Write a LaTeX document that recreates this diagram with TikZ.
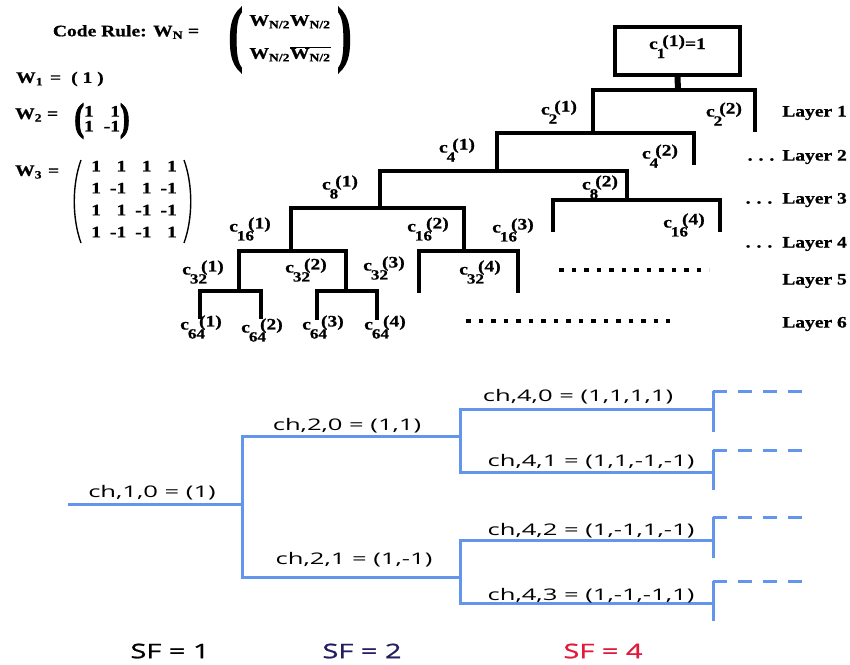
\documentclass[tikz,border=0pt]{standalone}
\usepackage{fontspec}
\usepackage{graphicx}
\setmainfont{Liberation Serif}
\newfontfamily\codefont[FakeStretch=1.22,FakeBold=0.8]{Liberation Serif}
\newfontfamily\parenfont[FakeBold=3]{Liberation Serif}
\newfontfamily\chfont[FakeStretch=1.6]{Open Sans}
\newfontfamily\sfcodefont[FakeStretch=1.45,FakeBold=1]{Open Sans}

\definecolor{treeblue}{RGB}{100,149,237}
\definecolor{sfnavy}{RGB}{35,30,95}
\definecolor{sfred}{RGB}{225,25,60}

% c_{sf}^{(k)} as printed in the code tree
\newsavebox\subbox
\newcommand{\ovsf}[2]{c\kern-1pt\sbox\subbox{\fontsize{14}{14}\selectfont #1}%
    \raisebox{-9pt}{\usebox\subbox}\kern-0.35\wd\subbox\raisebox{3pt}{(#2)}}
% bold stretched bracket
\newcommand{\tallparen}[4]{\raisebox{#1}{\scalebox{#2}[#3]{\parenfont\bfseries #4}}}

\begin{document}
\begin{tikzpicture}[x=1pt, y=-1pt,
    branch/.style={line width=3.8pt, line cap=rect},
    stem/.style={line width=6pt},
    dotrow/.style={line width=4.5pt, dash pattern=on 4.5pt off 8pt},
    code/.style={font={\codefont\bfseries\fontsize{16}{18}\selectfont}, inner sep=0pt},
    codebox/.style={code, draw, line width=4pt, minimum width=125pt, minimum height=48pt, text height=11pt, text depth=15pt},
    layer/.style={code, anchor=east},
    paren/.style={line width=1.4pt},
    tree/.style={treeblue, line width=3pt},
    cont/.style={tree, dash pattern=on 14pt off 11pt},
    chlabel/.style={font={\chfont\fontsize{16}{18}\selectfont}, inner sep=0pt},
    sflabel/.style={font={\sfcodefont\fontsize{20}{22}\selectfont}, inner sep=0pt}]

    \useasboundingbox (0,0) rectangle (850,664);

    % generation rule
    \node[code] (rule) at (126,32) {Code Rule: W\textsubscript{N} =};
    \node[code] (rulemat) at (290,40) {\tallparen{-14pt}{2.6}{4.4}{(}\hspace{7pt}%
        \begin{tabular}{@{}c@{}}W\textsubscript{N/2}W\textsubscript{N/2}\\[15pt]
        W\textsubscript{N/2}$\overline{\mbox{W\textsubscript{N/2}}}$\end{tabular}%
        \hspace{7pt}\tallparen{-14pt}{2.6}{4.4}{)}};
    \node[code, anchor=west] (w1) at (16,79) {W\textsubscript{1}\hspace{7pt}=\hspace{10pt}( 1 )};
    \node[code, anchor=west] (w2) at (15,115) {W\textsubscript{2}\hspace{5pt}=};
    \node[code] (w2mat) at (102,121) {\tallparen{-5pt}{1.8}{2.4}{(}%
        {\def\arraystretch{0.8}\begin{tabular}{@{}r@{\hspace{10pt}}r@{}}1&1\\1&-1\end{tabular}}%
        \tallparen{-5pt}{1.8}{2.4}{)}};
    \node[code, anchor=west] (w3) at (15,172) {W\textsubscript{3}\hspace{6pt}=};
    \node[code] (w3mat) at (134,200) {\def\arraystretch{1.22}%
        \begin{tabular}{@{}r@{\hspace{9pt}}r@{\hspace{9pt}}r@{\hspace{9pt}}r@{}}%
        1&1&1&1\\1&-1&1&-1\\1&1&-1&-1\\1&-1&-1&1\end{tabular}};
    \coordinate (pl1) at (81,160); \coordinate (pl2) at (81,243);
    \coordinate (pr1) at (184,160); \coordinate (pr2) at (184,243);
    \draw[paren] (pl1) .. controls (72,185) and (72,218) .. (pl2);
    \draw[paren] (pr1) .. controls (193,185) and (193,218) .. (pr2);

    % code tree
    \node[codebox] (root) at (677.5,51) {\ovsf{1}{1}=1};
    \coordinate (c1) at (678,90);
    \coordinate (c2a) at (593,133);  \coordinate (c2b) at (755,130);
    \coordinate (c4a) at (497,171);  \coordinate (c4b) at (694,163);
    \coordinate (c8a) at (380,208);  \coordinate (c8b) at (627,200);
    \coordinate (c16a) at (291,251); \coordinate (c16b) at (464,251);
    \coordinate (c16c) at (553,230); \coordinate (c16d) at (720,230);
    \coordinate (c32a) at (239,291); \coordinate (c32b) at (346,291);
    \coordinate (c32c) at (419,291); \coordinate (c32d) at (518,291);
    \coordinate (c64a) at (200,317); \coordinate (c64b) at (261,317);
    \coordinate (c64c) at (317,318); \coordinate (c64d) at (377,318);

    \draw[stem] (root.south) -- (c1);
    \draw[branch] (c2a) |- (c1) -| (c2b);
    \draw[branch] (c4a) |- (c2a) -| (c4b);
    \draw[branch] (c8a) |- (c4a) -| (c8b);
    \draw[branch] (c16a) |- (c8a) -| (c16b);
    \draw[branch] (c16c) |- (c8b) -| (c16d);
    \draw[branch] (c32a) |- (c16a) -| (c32b);
    \draw[branch] (c32c) |- (c16b) -| (c32d);
    \draw[branch] (c64a) |- (c32a) -| (c64b);
    \draw[branch] (c64c) |- (c32b) -| (c64d);

    \node[code] (l2a) at (559,112) {\ovsf{2}{1}};
    \node[code] (l2b) at (724,114) {\ovsf{2}{2}};
    \node[code] (l4a) at (457,150) {\ovsf{4}{1}};
    \node[code] (l4b) at (660,156) {\ovsf{4}{2}};
    \node[code] (l8a) at (340,187) {\ovsf{8}{1}};
    \node[code] (l8b) at (600,187) {\ovsf{8}{2}};
    \node[code] (l16a) at (250,229) {\ovsf{16}{1}};
    \node[code] (l16b) at (428,229) {\ovsf{16}{2}};
    \node[code] (l16c) at (513,230) {\ovsf{16}{3}};
    \node[code] (l16d) at (684,225) {\ovsf{16}{4}};
    \node[code] (l32a) at (203,272) {\ovsf{32}{1}};
    \node[code] (l32b) at (306,270) {\ovsf{32}{2}};
    \node[code] (l32c) at (384,268) {\ovsf{32}{3}};
    \node[code] (l32d) at (480,272) {\ovsf{32}{4}};
    \node[code] (l64a) at (201,327) {\ovsf{64}{1}};
    \node[code] (l64b) at (262,330) {\ovsf{64}{2}};
    \node[code] (l64c) at (323,327) {\ovsf{64}{3}};
    \node[code] (l64d) at (385,327) {\ovsf{64}{4}};

    \coordinate (d5a) at (559,270); \coordinate (d5b) at (709,270);
    \coordinate (d6a) at (466,321); \coordinate (d6b) at (670,321);
    \draw[dotrow] (d5a) -- (d5b);
    \draw[dotrow] (d6a) -- (d6b);

    \node[layer] (lay1) at (847,113) {Layer 1};
    \node[layer] (lay2) at (847,157) {.\hspace{6pt}.\hspace{6pt}.\hspace{8pt}Layer 2};
    \node[layer] (lay3) at (847,200) {.\hspace{6pt}.\hspace{6pt}.\hspace{10pt}Layer 3};
    \node[layer] (lay4) at (847,244) {.\hspace{6pt}.\hspace{6pt}.\hspace{10pt}Layer 4};
    \node[layer] (lay5) at (847,281) {Layer 5};
    \node[layer] (lay6) at (847,324) {Layer 6};

    % channelisation code tree
    \coordinate (r) at (68,504);
    \coordinate (j1) at (242,504);
    \coordinate (e20) at (460,436); \coordinate (e21) at (460,577);
    \coordinate (e40) at (713,409); \coordinate (e41) at (713,472);
    \coordinate (e42) at (713,540); \coordinate (e43) at (713,603);

    \draw[tree] (r) -- (j1);
    \draw[tree] (e20) -| (j1) |- (e21);
    \draw[tree] (e40) -| (e20) |- (e41);
    \draw[tree] (e42) -| (e21) |- (e43);

    \foreach \k/\top/\bot in {0/391/432, 1/450/490, 2/517/558, 3/581/621} {
        \coordinate (t\k) at (713,\top);
        \coordinate (b\k) at (713,\bot);
        \coordinate (f\k) at (802,\top);
        \draw[tree] (b\k) -- (t\k);
        \draw[cont] (t\k) -- (f\k);
    }

    \node[chlabel] (ch10) at (152,493) {ch,1,0 = (1)};
    \node[chlabel] (ch20) at (347,426) {ch,2,0 = (1,1)};
    \node[chlabel] (ch21) at (354,560) {ch,2,1 = (1,-1)};
    \node[chlabel] (ch40) at (578,397) {ch,4,0 = (1,1,1,1)};
    \node[chlabel] (ch41) at (591,462) {ch,4,1 = (1,1,-1,-1)};
    \node[chlabel] (ch42) at (591,531) {ch,4,2 = (1,-1,1,-1)};
    \node[chlabel] (ch43) at (591,596) {ch,4,3 = (1,-1,-1,1)};

    \node[sflabel] (sf1) at (170,651) {SF = 1};
    \node[sflabel, text=sfnavy] (sf2) at (362,651) {SF = 2};
    \node[sflabel, text=sfred] (sf4) at (603,651) {SF = 4};
\end{tikzpicture}
\end{document}
